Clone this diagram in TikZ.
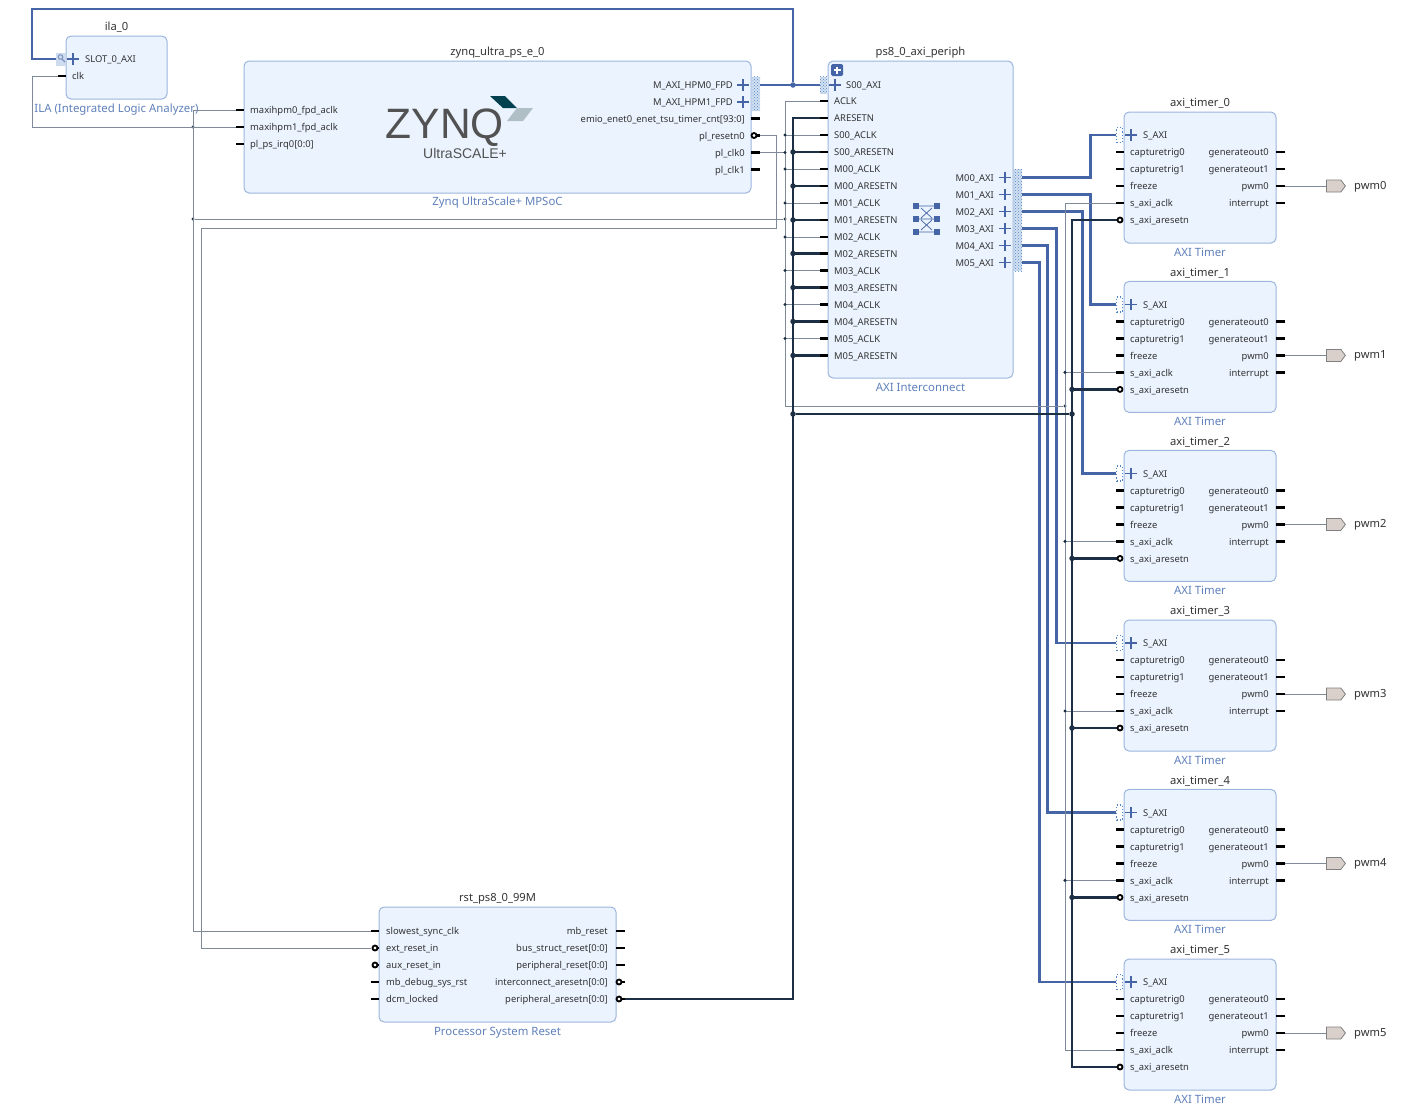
\documentclass[tikz,border=0pt]{standalone}
\usepackage{fontspec}
\setmainfont{Noto Sans}
\newfontfamily\logofont{Liberation Sans}
\usetikzlibrary{positioning, shapes, shapes.misc, shapes.symbols, patterns, arrows.meta, calc}

\definecolor{boxfill}{HTML}{EAF3FE}
\definecolor{boxline}{HTML}{9DB5DC}
\definecolor{sublabel}{HTML}{5F80BA}
\definecolor{axiblue}{HTML}{4565A6}
\definecolor{rstdark}{HTML}{1D2F45}
\definecolor{clkgray}{HTML}{7E8A97}
\definecolor{busdots}{HTML}{4F86C6}
\definecolor{porttext}{HTML}{333333}
\definecolor{outfill}{HTML}{DAD0CB}

\begin{document}
\begin{tikzpicture}[
    x=1pt, y=-1pt,
    % Styles
    block/.style={ % IP block
        rectangle,
        rounded corners=5pt,
        draw=boxline,
        fill=boxfill,
        line width=1pt,
        anchor=north west,
        inner sep=0pt,
        outer sep=0pt
    },
    blocktitle/.style={
        font=\fontsize{11.2}{12}\selectfont,
        text=porttext,
        inner sep=0pt,
        text height=9pt,
        text depth=3pt
    },
    blocktype/.style={
        font=\fontsize{11.4}{12}\selectfont,
        text=sublabel,
        inner sep=0pt,
        text height=9pt,
        text depth=3pt
    },
    portl/.style={ % Port text on the left side of a block
        anchor=west,
        font=\fontsize{9.4}{10}\selectfont,
        text=porttext,
        inner sep=0pt,
        text height=8.5pt,
        text depth=1pt
    },
    portr/.style={ % Port text on the right side of a block
        portl,
        anchor=east
    },
    stub/.style={
        line width=2.4pt,
        black
    },
    negpin/.style={ % Active low pin
        circle,
        draw=black,
        fill=white,
        line width=1.8pt,
        inner sep=0pt,
        minimum size=5pt
    },
    plusmark/.style={
        cross out,
        rotate=45,
        draw=axiblue,
        line width=1.5pt,
        inner sep=0pt,
        minimum size=6.5pt
    },
    busport/.style={ % Dotted end of an interface pin
        rectangle,
        preaction={fill=busdots!25},
        pattern=crosshatch dots,
        pattern color=busdots,
        inner sep=0pt,
        minimum width=8pt,
        minimum height=17pt
    },
    busopen/.style={
        rectangle,
        draw=busdots,
        dotted,
        line width=1.2pt,
        inner sep=0pt,
        minimum width=6pt,
        minimum height=15pt
    },
    axi/.style={
        line width=2.8pt,
        axiblue
    },
    clknet/.style={
        line width=1pt,
        clkgray
    },
    rstnet/.style={
        line width=2.3pt,
        rstdark
    },
    joint/.style={
        circle,
        fill=rstdark,
        inner sep=0pt,
        minimum size=3.4pt
    },
    jointbig/.style={
        joint,
        minimum size=5.5pt
    },
    outport/.style={
        signal,
        signal to=east,
        signal pointer angle=105,
        draw=gray,
        fill=outfill,
        line width=0.8pt,
        inner sep=0pt,
        minimum width=19pt,
        minimum height=12pt,
        anchor=west
    }
]
    \useasboundingbox (0,0) rectangle (1417,1104);

    % ILA block
    \node[block, minimum width=101pt, minimum height=63pt] (ila) at (66,36) {};
    \node[blocktitle, above=2pt of ila] (ilatitle) {ila\_0};
    \node[blocktype, below=4pt of ila] (ilatype) {ILA (Integrated Logic Analyzer)};
    \node[plusmark] (ilaplus) at (73,59) {};
    \node[portl] (ilaslot) at (85,59) {SLOT\_0\_AXI};
    \node[portl] (ilaclk) at (72,76) {clk};
    \coordinate (ila-axi) at (56,59);
    \coordinate (ila-clk) at (58,76);
    \draw[stub] (ila-clk) -- (ila.west |- ila-clk);

    % Zynq block
    \node[block, minimum width=507pt, minimum height=132pt] (zynq) at (244,61) {};
    \node[blocktitle, above=2pt of zynq] (zynqtitle) {zynq\_ultra\_ps\_e\_0};
    \node[blocktype, below=3.5pt of zynq] (zynqtype) {Zynq UltraScale+ MPSoC};
    \foreach \n/\lbl/\y in {hpm0/maxihpm0\_fpd\_aclk/110, hpm1/maxihpm1\_fpd\_aclk/127, irq/pl\_ps\_irq0[0:0]/144} {
        \node[portl] (z-\n) at (250,\y) {\lbl};
        \coordinate (z-\n-pin) at (236,\y);
        \draw[stub] (z-\n-pin) -- +(8,0);
    }
    \foreach \n/\lbl/\y in {emio/emio\_enet0\_enet\_tsu\_timer\_cnt[93:0]/118.5, plrst/pl\_resetn0/135.5, plclk0/pl\_clk0/152.5, plclk1/pl\_clk1/169.5} {
        \node[portr] (z-\n) at (745,\y) {\lbl};
        \coordinate (z-\n-pin) at (760,\y);
    }
    \draw[stub] (zynq.east |- z-emio-pin) -- (z-emio-pin);
    \draw[stub] (zynq.east |- z-plclk0-pin) -- (z-plclk0-pin);
    \draw[stub] (zynq.east |- z-plclk1-pin) -- (z-plclk1-pin);
    \foreach \n/\lbl/\y in {M0/M\_AXI\_HPM0\_FPD/85, M1/M\_AXI\_HPM1\_FPD/102} {
        \node[portr] (z-\n) at (733,\y) {\lbl};
        \node[plusmark] (z-\n-plus) at (743,\y) {};
        \node[busport] (z-\n-bus) at (756,\y) {};
    }
    % Zynq logo
    \node[anchor=west, inner sep=0pt, text=black!68, text height=31pt, text depth=0pt, font=\logofont\fontsize{42.5}{42}\selectfont] (zynqlogo) at (385.5,123) {ZYNQ};
    \node[anchor=west, inner sep=0pt, text=black!68, text height=10pt, text depth=0pt, font=\logofont\fontsize{14}{15}\selectfont] (zynqscale) at (423,153.5) {UltraSCALE+};
    \fill[fill={rgb,255:red,0;green,64;blue,79}] (490,96) -- (505,96) -- (517,108) -- (503,108) -- cycle;
    \fill[fill={rgb,255:red,176;green,190;blue,197}] (517,108) -- (533,108) -- (523,121) -- (507,121) -- cycle;

    % AXI interconnect block
    \node[block, minimum width=185pt, minimum height=317pt] (periph) at (828,61) {};
    \node[blocktitle, above=2pt of periph] (periphtitle) {ps8\_0\_axi\_periph};
    \node[blocktype, below=4.5pt of periph] (periphtype) {AXI Interconnect};
    \node[fill=axiblue, rounded corners=1.5pt, minimum size=12pt, inner sep=0pt] (expand) at (837,70) {};
    \draw[white, line width=1.4pt] ($(expand)+(-3.5,0)$) -- ($(expand)+(3.5,0)$);
    \draw[white, line width=1.4pt] ($(expand)+(0,-3.5)$) -- ($(expand)+(0,3.5)$);
    \node[plusmark] (s00plus) at (835,85) {};
    \node[portl] (s00) at (846,85) {S00\_AXI};
    \node[busport, minimum width=7pt] (s00-bus) at (823.5,85) {};
    \foreach \n/\y in {ACLK/101, ARESETN/118, S00_ACLK/135, S00_ARESETN/152, M00_ACLK/169, M00_ARESETN/186,
        M01_ACLK/203, M01_ARESETN/220, M02_ACLK/237, M02_ARESETN/253.5, M03_ACLK/270.5, M03_ARESETN/287.5,
        M04_ACLK/304.5, M04_ARESETN/321.5, M05_ACLK/338.5, M05_ARESETN/355.5} {
        \node[portl] (\n) at (834,\y) {\detokenize\expandafter{\n}};
        \coordinate (\n-pin) at (820,\y);
        \draw[stub] (\n-pin) -- +(8,0);
    }
    \foreach \n/\y in {M00/177.5, M01/194.5, M02/211.5, M03/228.5, M04/245.5, M05/262.5} {
        \node[portr] (\n) at (994,\y) {\n\_AXI};
        \node[plusmark] (\n-plus) at (1005,\y) {};
        \node[busport] (\n-bus) at (1018,\y) {};
    }
    % Crossbar icon
    \foreach \a in {916,937} \foreach \b in {206,219,232} \fill[axiblue] (\a-3,\b-3) rectangle (\a+3,\b+3);
    \draw[axiblue, line width=0.7pt] (919,206) -- (934,206) (921,208) -- (932,218) (932,208) -- (921,218)
        (919,219) -- (934,219) (921,220) -- (932,230) (932,220) -- (921,230) (919,232) -- (934,232);

    % AXI timers
    \foreach \i/\y in {0/112, 1/281.4, 2/450.4, 3/620, 4/789.4, 5/959} {
        \begin{scope}[shift={(0,\y)}]
            \node[block, minimum width=152pt, minimum height=131pt] (t\i) at (1124,0) {};
            \node[blocktitle, above=2pt of t\i] (t\i title) {axi\_timer\_\i};
            \node[blocktype, below=4pt of t\i] (t\i type) {AXI Timer};
            \node[plusmark] (t\i plus) at (1131,23) {};
            \node[portl] (t\i sax) at (1143,23) {S\_AXI};
            \node[busopen] (t\i-axi) at (1119.5,23) {};
            \foreach \n/\lbl/\d in {cap0/capturetrig0/40, cap1/capturetrig1/57, frz/freeze/74, aclk/s\_axi\_aclk/91} {
                \node[portl] (t\i-\n) at (1130,\d) {\lbl};
                \coordinate (t\i-\n-pin) at (1116,\d);
                \draw[stub] (t\i-\n-pin) -- +(8,0);
            }
            \node[portl] (t\i-rst) at (1130,108) {s\_axi\_aresetn};
            \coordinate (t\i-rst-pin) at (1117,108);
            \foreach \n/\lbl/\d in {gen0/generateout0/40, gen1/generateout1/57, pwm/pwm0/74, intr/interrupt/91} {
                \node[portr] (t\i-\n) at (1269,\d) {\lbl};
                \coordinate (t\i-\n-pin) at (1285,\d);
                \draw[stub] (t\i-\n-pin) -- +(-9,0);
            }
            \node[outport] (pwm\i) at (1326,74) {};
            \node[anchor=west, inner sep=0pt, text=porttext, text height=9pt, text depth=2pt, font=\fontsize{11.2}{12}\selectfont] (pwm\i text) at (1354,74) {pwm\i};
        \end{scope}
    }

    % Reset block
    \node[block, minimum width=237pt, minimum height=115pt] (rst) at (379,907) {};
    \node[blocktitle, above=2pt of rst] (rsttitle) {rst\_ps8\_0\_99M};
    \node[blocktype, below=4pt of rst] (rsttype) {Processor System Reset};
    \foreach \n/\lbl/\y in {slow/slowest\_sync\_clk/931, ext/ext\_reset\_in/948, aux/aux\_reset\_in/965, dbg/mb\_debug\_sys\_rst/982, dcm/dcm\_locked/999} {
        \node[portl] (r-\n) at (386,\y) {\lbl};
        \coordinate (r-\n-pin) at (371,\y);
    }
    \foreach \n/\lbl/\y in {mbr/mb\_reset/931, bus/bus\_struct\_reset[0:0]/948, per/peripheral\_reset[0:0]/965, inter/interconnect\_aresetn[0:0]/982, paresetn/peripheral\_aresetn[0:0]/999} {
        \node[portr] (r-\n) at (608,\y) {\lbl};
        \coordinate (r-\n-pin) at (625,\y);
    }
    \draw[stub] (r-slow-pin) -- +(8,0);
    \draw[stub] (r-dbg-pin) -- +(8,0);
    \draw[stub] (r-dcm-pin) -- +(8,0);
    \draw[stub] (r-mbr-pin) -- +(-9,0);
    \draw[stub] (r-bus-pin) -- +(-9,0);
    \draw[stub] (r-per-pin) -- +(-9,0);

    % AXI connections
    \node[jointbig, fill=axiblue] (jaxi) at (793,85) {};
    \draw[axi] (z-M0-bus.east) -- (s00-bus.west);
    \draw[axi, line join=miter] (jaxi) -- ++(0,-76) -| ++(-761,50) -- (ila-axi);
    \foreach \m/\i/\d in {M00/0/68, M01/1/68, M02/2/60, M03/3/34, M04/4/25, M05/5/17} {
        \draw[axi, line join=miter] (\m-bus.east) -- ++(\d,0) |- (t\i-axi.west);
    }

    % Clock net
    \node[joint] (jclk1) at (193,219) {};
    \node[joint] (jclk2) at (785,219) {};
    \node[joint] (jclk3) at (193,127) {};
    \node[joint] (jclk4) at (1065,406) {};
    \draw[clknet] (ila-clk) -- ++(-26,0) |- (z-hpm1-pin);
    \draw[clknet] (z-hpm0-pin) -- ++(-43,0) |- (r-slow-pin);
    \draw[clknet] (jclk1) -- (jclk2);
    \draw[clknet] (ACLK-pin) -- ++(-35,0) |- (jclk4);
    \draw[clknet] (t0-aclk-pin) -- ++(-51,0) |- (t5-aclk-pin);
    \draw[clknet] (z-plclk0-pin) -- ++(25,0) node[joint] {};
    \foreach \n in {S00_ACLK, M00_ACLK, M01_ACLK, M02_ACLK, M03_ACLK, M04_ACLK, M05_ACLK} {
        \draw[clknet] (\n-pin) -- ++(-35,0) node[joint] {};
    }
    \foreach \i in {1,2,3,4} {
        \draw[clknet] (t\i-aclk-pin) -- ++(-51,0) node[joint] {};
    }
    \foreach \i in {0,...,5} {
        \draw[clknet] (t\i-pwm-pin) -- (pwm\i.west);
    }

    % PS reset to system reset
    \coordinate (rstbend) at (201,228);
    \draw[clknet] (z-plrst-pin) -- ++(16,0) |- (rstbend) |- (r-ext-pin);

    % Peripheral reset net
    \node[jointbig] (jrst1) at (793,414) {};
    \node[jointbig] (jrst2) at (1072,414) {};
    \draw[rstnet, line join=miter] (r-paresetn-pin) -- ++(168,0) |- (ARESETN-pin);
    \draw[rstnet] (jrst1) -- (jrst2);
    \draw[rstnet, line join=miter] (t0-rst-pin) -- ++(-45,0) |- (t5-rst-pin);
    \foreach \n in {S00_ARESETN, M00_ARESETN, M01_ARESETN, M02_ARESETN, M03_ARESETN, M04_ARESETN, M05_ARESETN} {
        \draw[rstnet] (\n-pin) -- ++(-27,0) node[jointbig] {};
    }
    \foreach \i in {1,2,3,4} {
        \draw[rstnet] (t\i-rst-pin) -- ++(-45,0) node[jointbig] {};
    }

    % Active low pins
    \foreach \i in {0,...,5} {
        \node[negpin] (t\i-neg) at ($(t\i-rst-pin)+(3,0)$) {};
    }
    \draw[stub] (z-plrst-pin) -- +(-3,0);
    \node[negpin] (plrstneg) at (754,135.5) {};
    \node[negpin] (extneg) at (375,948) {};
    \node[negpin] (auxneg) at (375,965) {};
    \draw[stub] (379,948) -- +(-2,0);
    \draw[stub] (379,965) -- +(-2,0);
    \draw[stub] (r-inter-pin) -- +(-3,0);
    \draw[stub] (r-paresetn-pin) -- +(-3,0);
    \node[negpin] (interneg) at (619,982) {};
    \node[negpin] (periphneg) at (619,999) {};

    % ILA probe mark
    \fill[boxline!50] (56,53) rectangle (66,66);
    \draw[axiblue!70, line width=1pt] (60.5,57) circle (2.3pt);
    \draw[axiblue!70, line width=1.4pt] (62,59) -- (65,62);
\end{tikzpicture}
\end{document}
